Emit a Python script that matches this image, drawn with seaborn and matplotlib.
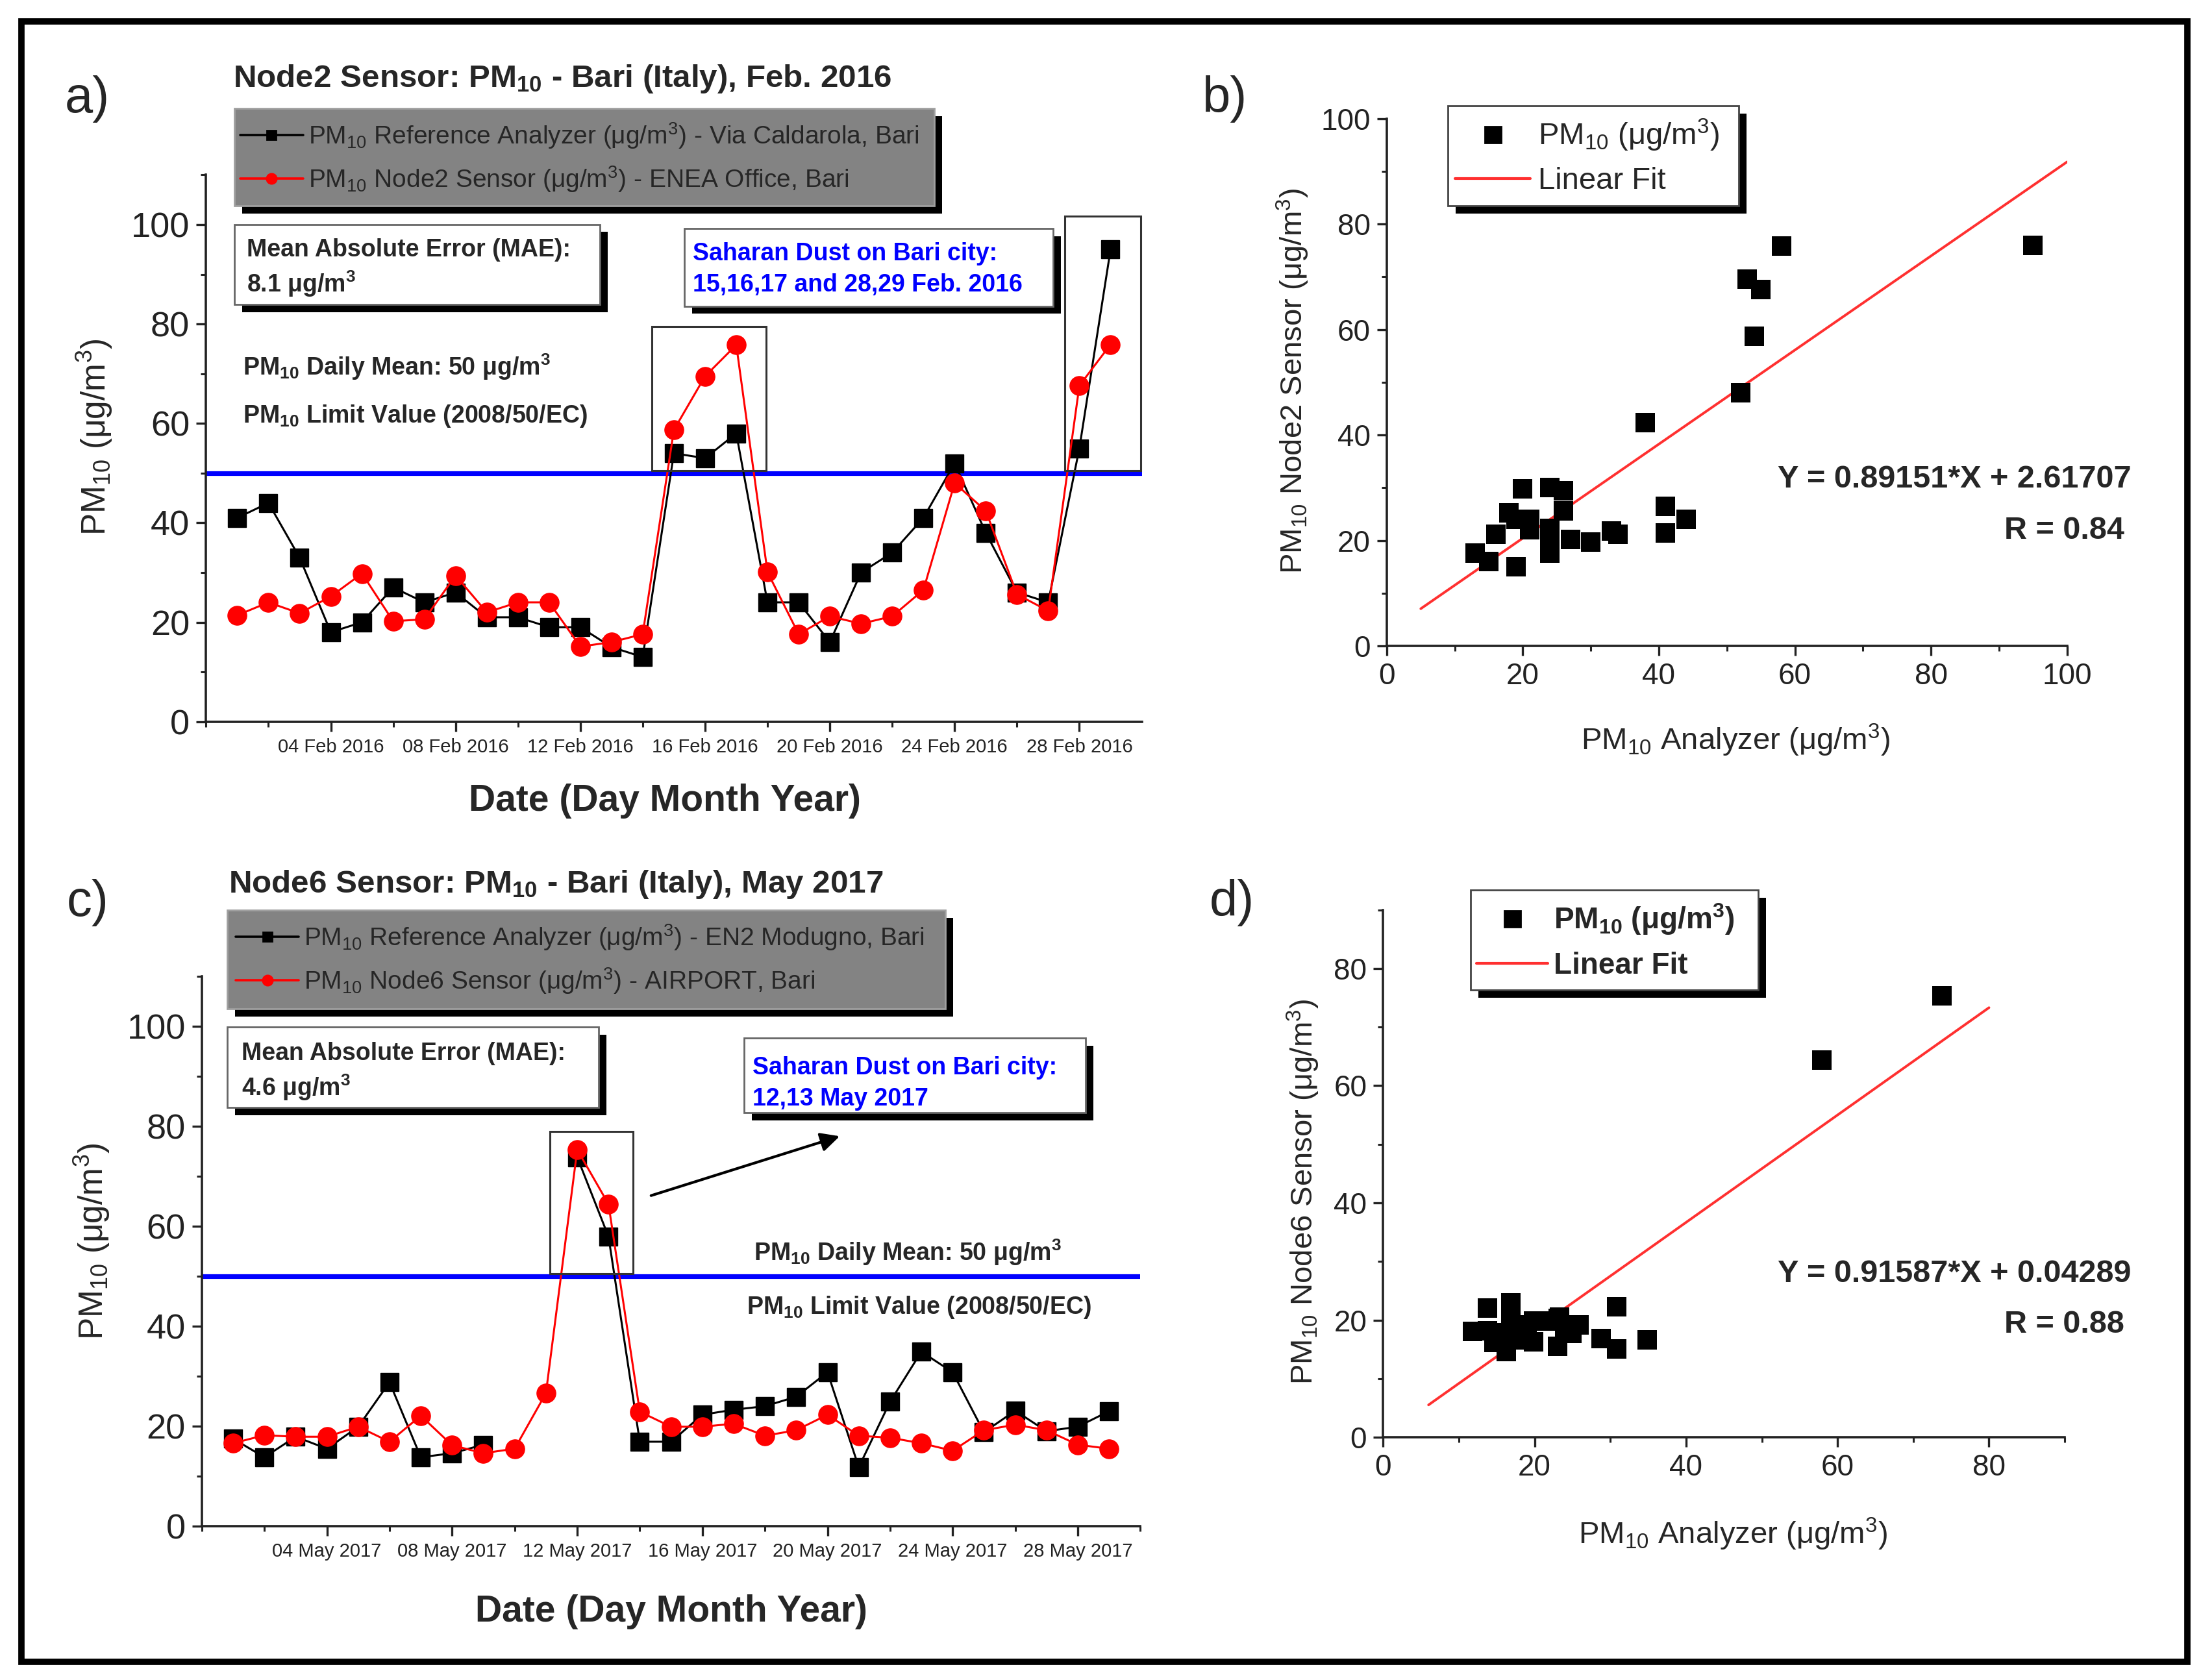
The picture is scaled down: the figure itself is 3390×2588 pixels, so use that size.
import numpy as np
import pandas as pd
import matplotlib
matplotlib.use('Agg')
import matplotlib.pyplot as plt
import matplotlib.dates as mdates
from matplotlib.patches import Rectangle
from matplotlib.lines import Line2D
from matplotlib.ticker import MultipleLocator
import seaborn as sns

# --- data ---
FEB_DAYS = pd.date_range('2016-02-01', '2016-02-29', freq='D')
FEB_REF = [41, 44, 33, 18, 20, 27, 24, 26, 21, 21, 19, 19, 15, 13, 54, 53, 58,
           24, 24, 16, 30, 34, 41, 52, 38, 26, 24, 55, 95]
FEB_NODE2 = [21.4, 24, 21.8, 25.2, 29.8, 20.2, 20.6, 29.4, 22, 24, 24, 15.1, 16,
             17.6, 58.7, 69.5, 75.8, 30.1, 17.6, 21.2, 19.7, 21.2, 26.5, 48,
             42.4, 25.6, 22.3, 67.6, 75.9]

MAY_DAYS = pd.date_range('2017-05-01', '2017-05-29', freq='D')
MAY_REF = [17.5, 13.8, 17.9, 15.5, 19.9, 28.8, 13.8, 14.6, 16.3, np.nan, np.nan,
           73.8, 57.9, 16.9, 16.9, 22.3, 23.3, 24, 25.9, 30.8, 11.8, 24.9, 34.9,
           30.8, 18.8, 23.1, 19, 19.9, 23]
MAY_NODE6 = [16.6, 18.2, 17.9, 17.9, 19.9, 16.9, 22.1, 16.2, 14.6, 15.5, 26.6,
             75.3, 64.4, 22.9, 19.9, 19.9, 20.5, 18.1, 19.2, 22.3, 18.1, 17.7,
             16.6, 15.1, 19.2, 20.3, 19.2, 16.3, 15.5]

LIMIT_PM10 = 50
FIT_B = (0.89151, 2.61707)
FIT_B_X = [5, 100]
FIT_D = (0.91587, 0.04289)
FIT_D_X = [6, 80]
R_B, R_D = 0.84, 0.88
MAE_A, MAE_C = 8.1, 4.6

# layout grid of the reference (pixels of a 1560 x 1191 view)
W, H = 1560, 1191
RED = '#ff0000'
BLUE = '#0000ff'

sns.set_theme(style='ticks')
plt.rcParams['font.family'] = ['Liberation Sans', 'DejaVu Sans']
plt.rcParams.update({
    'mathtext.fontset': 'custom',
    'mathtext.rm': 'Liberation Sans',
    'mathtext.it': 'Liberation Sans:italic',
    'mathtext.bf': 'Liberation Sans:bold',
    'mathtext.default': 'regular',
    'axes.linewidth': 1.3,
    'xtick.major.width': 1.2, 'ytick.major.width': 1.2,
    'xtick.minor.width': 1.1, 'ytick.minor.width': 1.1,
    'xtick.major.size': 5.5, 'ytick.major.size': 5.5,
    'xtick.minor.size': 3.0, 'ytick.minor.size': 3.0,
    'xtick.direction': 'out', 'ytick.direction': 'out',
    'axes.edgecolor': '#222222',
    'xtick.color': '#222222', 'ytick.color': '#222222',
})


def fxy(x, y):
    return x / W, 1 - y / H


def axes_rect(x0, y0, x1, y1):
    return [x0 / W, 1 - y1 / H, (x1 - x0) / W, (y1 - y0) / H]


def shadow_box(fig, x0, y0, x1, y1, face='white', edge='#666666', off=5.5):
    fig.patches.append(Rectangle(((x0 + off) / W, 1 - (y1 + off) / H),
                                 (x1 - x0) / W, (y1 - y0) / H,
                                 transform=fig.transFigure, facecolor='black',
                                 edgecolor='none', zorder=1))
    fig.patches.append(Rectangle((x0 / W, 1 - y1 / H), (x1 - x0) / W, (y1 - y0) / H,
                                 transform=fig.transFigure, facecolor=face,
                                 edgecolor=edge, lw=1.0, zorder=1.1))


def ftext(fig, x, y, s, **kw):
    kw.setdefault('va', 'center')
    kw.setdefault('ha', 'left')
    fig.text(*fxy(x, y), s, zorder=3, **kw)


def ts_frame(days, vals):
    s = pd.Series(vals, dtype=float)
    return pd.DataFrame({'day': days, 'val': s, 'seg': s.isna().cumsum()})


def day_num(stamp):
    return mdates.date2num(pd.Timestamp(stamp))


def draw_series(ax, days, ref, sensor, xlim):
    sns.lineplot(data=ts_frame(days, ref), x='day', y='val', units='seg',
                 estimator=None, color='black', lw=1.1, marker='s',
                 markersize=10, mec='black', mfc='black', mew=0.5,
                 ax=ax, zorder=3, legend=False)
    sns.lineplot(data=ts_frame(days, sensor), x='day', y='val', units='seg',
                 estimator=None, color=RED, lw=1.1, marker='o',
                 markersize=10.5, mec=RED, mfc=RED, mew=0.5,
                 ax=ax, zorder=4, legend=False)
    ax.axhline(LIMIT_PM10, color=BLUE, lw=2.6, zorder=2)
    ax.set_xlim(*xlim)
    ax.set_ylim(0, 110)
    ax.set_yticks(range(0, 101, 20))
    ax.yaxis.set_minor_locator(MultipleLocator(10))
    ax.xaxis.set_major_locator(mdates.DayLocator(bymonthday=[4, 8, 12, 16, 20, 24, 28]))
    ax.xaxis.set_minor_locator(mdates.DayLocator(bymonthday=[2, 6, 10, 14, 18, 22, 26, 30, 31]))
    ax.xaxis.set_major_formatter(mdates.DateFormatter('%d %b %Y'))
    ax.tick_params(axis='x', labelsize=10.5)
    ax.tick_params(axis='y', labelsize=19.5)
    ax.set_xlabel('Date (Day Month Year)', fontsize=20.5, fontweight='bold')
    ax.set_ylabel('PM$_{10}$ (μg/m$^3$)', fontsize=18.5)
    ax.xaxis.label.set_va('center')
    ax.yaxis.label.set_va('center')
    sns.despine(ax=ax)


def draw_scatter(ax, ref, sensor, fit, fit_x, lim, ylabel):
    df = pd.DataFrame({'ref': ref, 'sensor': sensor}).dropna()
    sns.scatterplot(data=df, x='ref', y='sensor', marker='s', s=115,
                    color='black', edgecolor='black', linewidth=0, ax=ax, zorder=3)
    fx_ = np.array(fit_x, dtype=float)
    sns.lineplot(x=fx_, y=fit[0] * fx_ + fit[1], color='#ff3030', lw=1.4, ax=ax, zorder=2)
    ax.set_xlim(0, lim)
    ax.set_ylim(0, lim)
    ax.set_xticks(range(0, lim + 1, 20))
    ax.set_yticks(range(0, lim + 1, 20))
    ax.xaxis.set_minor_locator(MultipleLocator(10))
    ax.yaxis.set_minor_locator(MultipleLocator(10))
    ax.tick_params(labelsize=16.5)
    ax.set_xlabel('PM$_{10}$ Analyzer (μg/m$^3$)', fontsize=17)
    ax.set_ylabel(ylabel, fontsize=17)
    ax.xaxis.label.set_va('center')
    ax.yaxis.label.set_va('center')
    sns.despine(ax=ax)


fig = plt.figure(figsize=(3391 / 200, 2588 / 200), dpi=200)
fig.patch.set_facecolor('white')

ax_a = fig.add_axes(axes_rect(146, 124, 809, 511.6))
ax_c = fig.add_axes(axes_rect(143, 692, 808, 1082))
ax_b = fig.add_axes(axes_rect(982.6, 84, 1464.6, 458))
ax_d = fig.add_axes(axes_rect(980, 645, 1463, 1019))

# ---- panel a ----
draw_series(ax_a, FEB_DAYS, FEB_REF, FEB_NODE2,
            (pd.Timestamp('2016-01-31'), pd.Timestamp('2016-03-01')))
ax_a.xaxis.set_label_coords(0.49, -0.145)
ax_a.yaxis.set_label_coords(-0.119, 0.52)
for t0, t1, y0, y1 in [('2016-02-14 07:00', '2016-02-17 23:00', 50.5, 79.5),
                       ('2016-02-27 13:00', '2016-02-29 23:00', 50.5, 101.7)]:
    x0, x1 = day_num(t0), day_num(t1)
    ax_a.add_patch(Rectangle((x0, y0), x1 - x0, y1 - y0, fill=False,
                             edgecolor='#333333', lw=1.1, zorder=5, clip_on=False))

ftext(fig, 62, 70, 'a)', fontsize=28, ha='center')
ftext(fig, 165, 56, r'Node2 Sensor: PM$_{\mathbf{10}}$ - Bari (Italy), Feb. 2016',
      fontsize=17.8, fontweight='bold')
shadow_box(fig, 166, 77, 662, 146, face='#838383', edge='#a0a0a0')
shadow_box(fig, 166, 159, 425, 216)
ftext(fig, 175, 177, 'Mean Absolute Error (MAE):', fontsize=13.5, fontweight='bold')
ftext(fig, 175, 201, f'{MAE_A} μg/m' + r'$^{\mathbf{3}}$', fontsize=13.5, fontweight='bold')
shadow_box(fig, 485, 162, 746, 217)
ftext(fig, 491, 180, 'Saharan Dust on Bari city:', fontsize=13.5, fontweight='bold', color=BLUE)
ftext(fig, 491, 202, '15,16,17 and 28,29 Feb. 2016', fontsize=13.5, fontweight='bold', color=BLUE)
ftext(fig, 172, 260, r'PM$_{\mathbf{10}}$ Daily Mean: 50 μg/m$^{\mathbf{3}}$',
      fontsize=13.5, fontweight='bold')
ftext(fig, 172, 295, r'PM$_{\mathbf{10}}$ Limit Value (2008/50/EC)',
      fontsize=13.5, fontweight='bold')

ts_handles = [Line2D([], [], color='black', lw=1.3, marker='s', ms=5),
              Line2D([], [], color=RED, lw=1.3, marker='o', ms=5.5)]
fig.legend(ts_handles,
           [r'PM$_{10}$ Reference Analyzer (μg/m$^3$) - Via Caldarola, Bari',
            r'PM$_{10}$ Node2 Sensor (μg/m$^3$) - ENEA Office, Bari'],
           loc='center left', bbox_to_anchor=fxy(170, 111.5), frameon=False,
           fontsize=14, handlelength=2.5, handletextpad=0.2, borderpad=0,
           borderaxespad=0, labelspacing=0.55)

# ---- panel c ----
draw_series(ax_c, MAY_DAYS, MAY_REF, MAY_NODE6,
            (pd.Timestamp('2017-04-30'), pd.Timestamp('2017-05-30')))
ax_c.xaxis.set_label_coords(0.5, -0.156)
ax_c.yaxis.set_label_coords(-0.117, 0.518)
x0, x1 = day_num('2017-05-11 03:00'), day_num('2017-05-13 19:00')
ax_c.add_patch(Rectangle((x0, 50.5), x1 - x0, 79.0 - 50.5, fill=False,
                         edgecolor='#333333', lw=1.1, zorder=5))
ax_c.annotate('', xy=(day_num('2017-05-20 12:00'), 78.2),
              xytext=(day_num('2017-05-14 06:00'), 65.9),
              arrowprops=dict(arrowstyle='-|>', color='black', lw=1.5,
                              mutation_scale=22))

ftext(fig, 62, 640, 'c)', fontsize=28, ha='center')
ftext(fig, 162, 627, r'Node6 Sensor: PM$_{\mathbf{10}}$ - Bari (Italy), May 2017',
      fontsize=17.8, fontweight='bold')
shadow_box(fig, 161, 645, 670, 715, face='#838383', edge='#a0a0a0')
shadow_box(fig, 161, 728, 424, 785)
ftext(fig, 171, 747, 'Mean Absolute Error (MAE):', fontsize=13.5, fontweight='bold')
ftext(fig, 171, 771, f'{MAE_C} μg/m' + r'$^{\mathbf{3}}$', fontsize=13.5, fontweight='bold')
shadow_box(fig, 527, 736, 769, 789)
ftext(fig, 533, 757, 'Saharan Dust on Bari city:', fontsize=13.5, fontweight='bold', color=BLUE)
ftext(fig, 533, 779, '12,13 May 2017', fontsize=13.5, fontweight='bold', color=BLUE)
ftext(fig, 534, 888, r'PM$_{\mathbf{10}}$ Daily Mean: 50 μg/m$^{\mathbf{3}}$',
      fontsize=13.5, fontweight='bold')
ftext(fig, 529, 927, r'PM$_{\mathbf{10}}$ Limit Value (2008/50/EC)',
      fontsize=13.5, fontweight='bold')
fig.legend(ts_handles,
           [r'PM$_{10}$ Reference Analyzer (μg/m$^3$) - EN2 Modugno, Bari',
            r'PM$_{10}$ Node6 Sensor (μg/m$^3$) - AIRPORT, Bari'],
           loc='center left', bbox_to_anchor=fxy(167, 680), frameon=False,
           fontsize=14, handlelength=2.5, handletextpad=0.2, borderpad=0,
           borderaxespad=0, labelspacing=0.55)

# ---- panel b ----
draw_scatter(ax_b, FEB_REF, FEB_NODE2, FIT_B, FIT_B_X, 100,
             r'PM$_{10}$ Node2 Sensor (μg/m$^3$)')
ax_b.xaxis.set_label_coords(0.513, -0.179)
ax_b.yaxis.set_label_coords(-0.138, 0.503)
ftext(fig, 868, 70, 'b)', fontsize=28, ha='center')
shadow_box(fig, 1026, 75, 1232, 146, edge='#444444')
sc_handles = [Line2D([], [], color='black', marker='s', ls='none', ms=9),
              Line2D([], [], color='#ff3030', lw=1.5)]
fig.legend(sc_handles, [r'PM$_{10}$ (μg/m$^3$)', 'Linear Fit'],
           loc='center left', bbox_to_anchor=fxy(1031, 111), frameon=False,
           fontsize=17, handlelength=2.45, handletextpad=0.25, borderpad=0,
           borderaxespad=0, labelspacing=0.45)
ftext(fig, 1510, 340, f'Y = {FIT_B[0]:.5f}*X + {FIT_B[1]:.5f}', fontsize=17.5,
      fontweight='bold', ha='right')
ftext(fig, 1505, 376, f'R = {R_B:.2f}', fontsize=17.5, fontweight='bold', ha='right')

# ---- panel d ----
draw_scatter(ax_d, MAY_REF, MAY_NODE6, FIT_D, FIT_D_X, 90,
             r'PM$_{10}$ Node6 Sensor (μg/m$^3$)')
ax_d.set_xticks(range(0, 81, 20))
ax_d.set_yticks(range(0, 81, 20))
ax_d.xaxis.set_label_coords(0.513, -0.184)
ax_d.yaxis.set_label_coords(-0.117, 0.465)
ftext(fig, 873, 640, 'd)', fontsize=28, ha='center')
shadow_box(fig, 1042, 631, 1246, 702, edge='#444444')
fig.legend(sc_handles, [r'PM$_{\mathbf{10}}$ (μg/m$^{\mathbf{3}}$)', 'Linear Fit'],
           loc='center left', bbox_to_anchor=fxy(1046, 667), frameon=False,
           prop={'size': 16.5, 'weight': 'bold'}, handlelength=2.4,
           handletextpad=0.2, borderpad=0, borderaxespad=0, labelspacing=0.5)
ftext(fig, 1510, 903, f'Y = {FIT_D[0]:.5f}*X + {FIT_D[1]:.5f}', fontsize=17.5,
      fontweight='bold', ha='right')
ftext(fig, 1505, 939, f'R = {R_D:.2f}', fontsize=17.5, fontweight='bold', ha='right')

# outer frame
fig.patches.append(Rectangle((15 / W, 1 - 1178 / H), (1550 - 15) / W, (1178 - 15) / H,
                             transform=fig.transFigure, fill=False,
                             edgecolor='black', lw=3.5, zorder=6))

fig.savefig('out.png', dpi=200)
